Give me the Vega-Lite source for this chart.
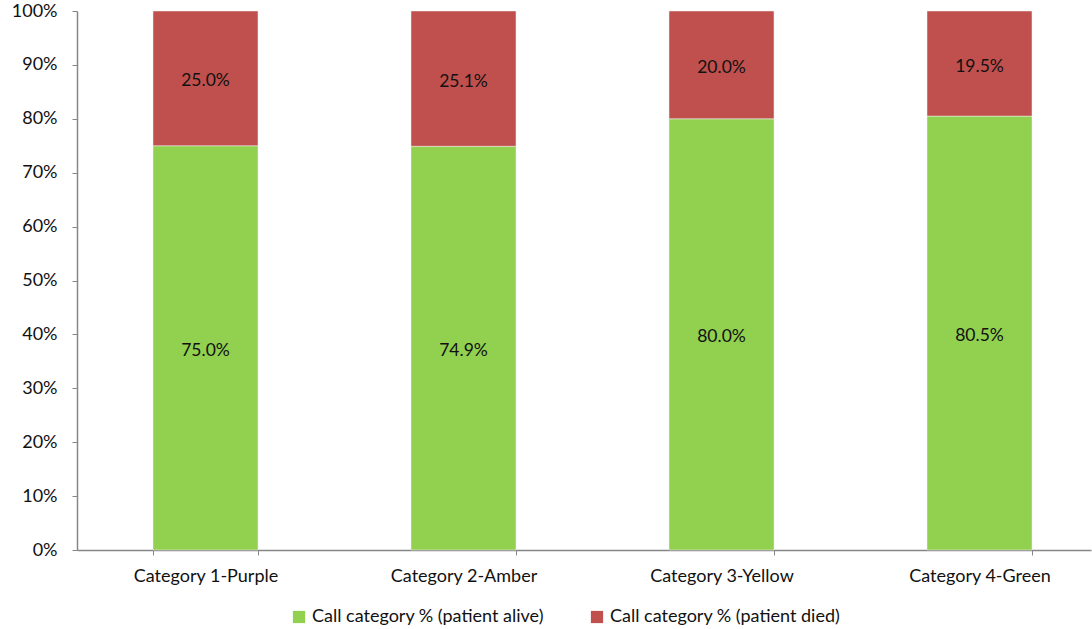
{
  "$schema": "https://vega.github.io/schema/vega-lite/v6.json",
  "autosize": "none",
  "width": 1014,
  "height": 539,
  "padding": {"left": 77, "top": 11, "right": 1, "bottom": 79},
  "background": "white",
  "config": {
    "view": {"stroke": null},
    "font": "Lato",
    "axis": {"labelFont": "Lato", "labelFontSize": 18, "labelColor": "#111", "domainColor": "#868686", "tickColor": "#868686", "grid": false, "title": null}
  },
  "data": {
    "values": [
      {"category": "Category 1-Purple", "status": "Call category % (patient alive)", "ord": 1, "value": 0.750},
      {"category": "Category 1-Purple", "status": "Call category % (patient died)", "ord": 2, "value": 0.250},
      {"category": "Category 2-Amber", "status": "Call category % (patient alive)", "ord": 1, "value": 0.749},
      {"category": "Category 2-Amber", "status": "Call category % (patient died)", "ord": 2, "value": 0.251},
      {"category": "Category 3-Yellow", "status": "Call category % (patient alive)", "ord": 1, "value": 0.800},
      {"category": "Category 3-Yellow", "status": "Call category % (patient died)", "ord": 2, "value": 0.200},
      {"category": "Category 4-Green", "status": "Call category % (patient alive)", "ord": 1, "value": 0.805},
      {"category": "Category 4-Green", "status": "Call category % (patient died)", "ord": 2, "value": 0.195}
    ]
  },
  "transform": [
    {"stack": "value", "groupby": ["category"], "sort": [{"field": "ord", "order": "ascending"}], "as": ["y0", "y1"]},
    {"calculate": "(datum.y0 + datum.y1) / 2", "as": "ymid"}
  ],
  "encoding": {
    "x": {
      "field": "category", "type": "nominal", "sort": null,
      "scale": {"paddingInner": 0.593, "paddingOuter": 0.2616, "align": 0.563},
      "axis": {"labelAngle": 0, "tickBand": "extent", "tickSize": 5, "labelPadding": 12, "domainWidth": 1.5}
    }
  },
  "layer": [
    {
      "mark": {"type": "bar", "stroke": "#f2f2f2", "strokeWidth": 0.5},
      "encoding": {
        "y": {"field": "y0", "type": "quantitative", "scale": {"domain": [0, 1], "nice": false},
          "axis": {"format": ".0%", "values": [0, 0.1, 0.2, 0.3, 0.4, 0.5, 0.6, 0.7, 0.8, 0.9, 1.0], "tickSize": 5, "labelPadding": 15, "domainWidth": 1.5}},
        "y2": {"field": "y1"},
        "color": {
          "field": "status", "type": "nominal",
          "scale": {"domain": ["Call category % (patient alive)", "Call category % (patient died)"], "range": ["#92D050", "#C0504D"]},
          "legend": {"title": null, "orient": "none", "direction": "horizontal", "legendX": 213, "legendY": 597, "symbolType": "square", "symbolSize": 150, "symbolStrokeWidth": 0, "labelFontSize": 18, "labelFont": "Lato", "labelColor": "#111", "columnPadding": 44, "labelLimit": 400}
        }
      }
    },
    {
      "mark": {"type": "text", "fontSize": 17.5, "color": "#111", "font": "Lato", "dy": 3},
      "encoding": {
        "y": {"field": "ymid", "type": "quantitative"},
        "text": {"field": "value", "type": "quantitative", "format": ".1%"}
      }
    }
  ]
}
